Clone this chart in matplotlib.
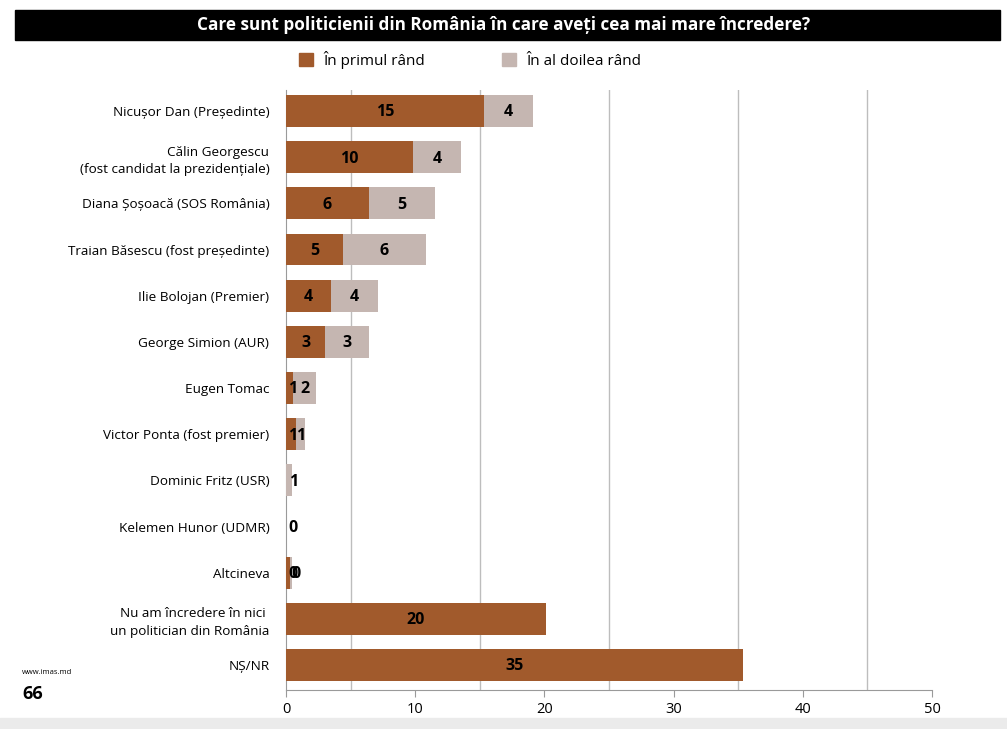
import matplotlib
matplotlib.use("Agg")
import matplotlib.pyplot as plt
from matplotlib.patches import Patch, Rectangle
from matplotlib import font_manager

categories = [
    "Nicușor Dan (Președinte)",
    "Călin Georgescu\n(fost candidat la prezidențiale)",
    "Diana Șoșoacă (SOS România)",
    "Traian Băsescu (fost președinte)",
    "Ilie Bolojan (Premier)",
    "George Simion (AUR)",
    "Eugen Tomac",
    "Victor Ponta (fost premier)",
    "Dominic Fritz (USR)",
    "Kelemen Hunor (UDMR)",
    "Altcineva",
    "Nu am încredere în nici \nun politician din România",
    "NȘ/NR",
]
primul = [15.3, 9.85, 6.4, 4.45, 3.5, 3.05, 0.55, 0.75, 0.0, 0.0, 0.3, 20.1, 35.4]
doilea = [3.85, 3.7, 5.15, 6.35, 3.65, 3.35, 1.8, 0.75, 0.5, 0.0, 0.15, 0.0, 0.0]
primul_labels = ["15", "10", "6", "5", "4", "3", "1", "1", None, "0", "0", "20", "35"]
doilea_labels = ["4", "4", "5", "6", "4", "3", "2", "1", "1", None, "0", None, None]
series_names = ["În primul rând", "În al doilea rând"]
xticks = [0, 10, 20, 30, 40, 50]
title = "Care sunt politicienii din România în care aveți cea mai mare încredere?"

c1 = "#A15A2C"
c2 = "#C5B6B1"

avail = {f.name for f in font_manager.fontManager.ttflist}
F = "Open Sans" if "Open Sans" in avail else "DejaVu Sans"

fig = plt.figure(figsize=(10.07, 7.29), dpi=100)
ax = fig.add_axes([0.284, 0.0535, 0.6415, 0.823])

y = list(range(len(categories)))
ax.barh(y, primul, height=0.69, color=c1, zorder=3)
ax.barh(y, doilea, left=primul, height=0.69, color=c2, zorder=3)

for i in y:
    p, d = primul[i], doilea[i]
    x1 = max(p / 2, 0.55)
    if primul_labels[i] is not None:
        ax.text(x1, i + 0.03, primul_labels[i], ha="center", va="center",
                fontsize=11.5, fontweight="bold", family=F, zorder=5)
    if doilea_labels[i] is not None:
        x2 = p + d / 2
        if primul_labels[i] is not None:
            x2 = max(x2, x1 + 0.25)
        else:
            x2 = max(x2, 0.6)
        ax.text(x2, i + 0.03, doilea_labels[i], ha="center", va="center",
                fontsize=11.5, fontweight="bold", family=F, zorder=5)

ax.set_xlim(0, 50)
ax.set_ylim(12.54, -0.455)
ax.set_yticks(y)
ax.set_yticklabels(categories, family=F, fontsize=9.7, linespacing=1.45)
ax.set_xticks(xticks)
ax.set_xticklabels([str(t) for t in xticks], family=F, fontsize=10.5)
for g in [5, 15, 25, 35, 45]:
    ax.axvline(g, color="#BDBDBD", lw=1, zorder=1)
for s in ["top", "right"]:
    ax.spines[s].set_visible(False)
ax.spines["left"].set_color("#9A9A9A")
ax.spines["bottom"].set_color("#9A9A9A")
ax.tick_params(axis="y", length=0, pad=12)
ax.tick_params(axis="x", length=5, color="#9A9A9A", pad=4)

# title banner
fig.patches.append(Rectangle((0.015, 1 - 40 / 729), 0.978, 30 / 729,
                             transform=fig.transFigure, color="black", zorder=0))
fig.text(0.5, 1 - 25 / 729, title, ha="center", va="center", color="white",
         fontsize=12.3, fontweight="bold", family=F)

handles = [Patch(color=c1), Patch(color=c2)]
fig.legend(handles, series_names, loc="center", bbox_to_anchor=(0.467, 1 - 60 / 729),
           ncol=2, frameon=False, handlelength=0.9, handleheight=0.9,
           columnspacing=5.0, handletextpad=0.7, prop={"family": F, "size": 11})

fig.text(0.022, 1 - 672 / 729, "www.imas.md", fontsize=5.5, family=F, va="center")
fig.text(0.022, 1 - 694 / 729, "66", fontsize=13, fontweight="bold", family=F, va="center")
fig.patches.append(Rectangle((0, 0), 1, 11 / 729, transform=fig.transFigure,
                             color="#EBEBEB", zorder=0))

fig.savefig("out.png", dpi=100)
